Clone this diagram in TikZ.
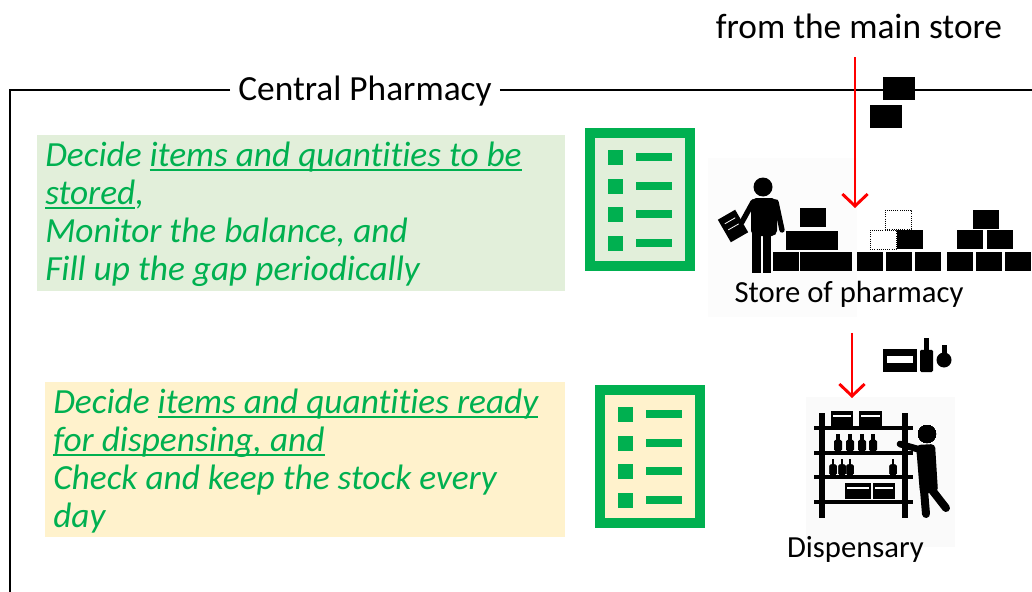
\documentclass[tikz,border=0pt]{standalone}
\usepackage{fontspec}
\setmainfont{Carlito}[Ligatures=NoCommon]
\usetikzlibrary{arrows.meta}
\definecolor{listgreen}{RGB}{0,176,80}
\definecolor{stockgreen}{RGB}{226,239,218}
\definecolor{dispyellow}{RGB}{255,242,204}
\definecolor{flowred}{RGB}{255,0,0}

% underline sitting just under the baseline
\newsavebox\keybox
\newcommand{\keyterm}[1]{\sbox\keybox{#1}\rlap{\rule[-3.6pt]{\wd\keybox}{1.2pt}}\usebox\keybox}

% checklist sheet: top-left x, top-left y, paper colour
\newcommand{\tasklist}[3]{%
  \fill[listgreen] (#1,#2) rectangle ++(110,143);
  \fill[#3] (#1+10,#2+10) rectangle ++(90,123);
  \foreach \r in {0,...,3} {
    \fill[listgreen] (#1+23,#2+22+28.5*\r) rectangle ++(15,15);
    \fill[listgreen] (#1+51,#2+25+28.5*\r) rectangle ++(36,8);
  }}

% bottle: centre x, bottom y, width, height
\newcommand{\vial}[4]{%
  \fill[rounded corners=1pt] (#1-#3/2,#2) rectangle (#1+#3/2,#2-0.65*#4);
  \fill (#1-#3/5,#2-0.6*#4) rectangle (#1+#3/5,#2-#4);}

\tikzset{
  frame/.style={draw=black, line width=1.5pt},
  duty/.style={anchor=base west, align=left, inner sep=0pt, text=listgreen, font=\fontsize{26.5}{28.5}\selectfont\itshape},
  heading/.style={anchor=base, font=\fontsize{26.5}{30}\selectfont},
  iconlabel/.style={anchor=base, font=\fontsize{23}{26}\selectfont},
  crate/.style={fill=black},
  gapcrate/.style={draw=black, densely dotted, line width=0.6pt, fill=white},
  flow/.style={flowred, line width=2.2pt, -{Straight Barb[length=9pt, width=19pt]}}
}

\begin{document}
\begin{tikzpicture}[x=0.75pt, y=-0.75pt]
    \useasboundingbox (0,0) rectangle (1032,592);

    % pharmacy frame
    \node[heading, inner xsep=6pt] (pharmacy) at (365,101) {Central Pharmacy};
    \coordinate (frameTL) at (10,90);
    \coordinate (frameBL) at (10,592);
    \coordinate (frameTR) at (1032,90);
    \draw[frame] (pharmacy.west |- frameTL) -- (frameTL) -- (frameBL);
    \draw[frame] (pharmacy.east |- frameTL) -- (frameTR);

    % tasks (node base = last line)
    \fill[stockgreen] (37,135) rectangle (565,291);
    \node[duty] (stockTask) at (45,280) {Decide \keyterm{items and quantities to be}\\\keyterm{stored},\\Monitor the balance, and\\Fill up the gap periodically};
    \fill[dispyellow] (45,382) rectangle (565,537);
    \node[duty] (dispTask) at (53,527) {Decide \keyterm{items and quantities ready}\\\keyterm{for dispensing, and}\\Check and keep the stock every\\day};

    \tasklist{585}{128}{stockgreen}
    \tasklist{595}{385}{dispyellow}

    % store of pharmacy
    \fill[black!1] (708,158) rectangle (857,317);
    \fill (763,187) circle (9.5);
    \fill[rounded corners=4pt] (751,198) rectangle (777,236);
    \fill (752,232) rectangle (761,273);
    \fill (763,232) rectangle (771,273);
    \draw[line width=4pt, line cap=round] (776,202) -- (782,230);
    \draw[line width=4pt, line cap=round] (753,202) -- (742,222);
    \fill[rotate around={30:(733,226)}] (723,213) rectangle (743,239);
    \draw[white, line width=0.6pt, rotate around={30:(733,226)}] (727,220) -- (739,220) (727,227) -- (739,227);
    \foreach \bx/\by in {773/252, 800/252, 826/252, 786/231, 812/231, 800/208,
                         857/252, 886/252, 915/252, 947/252, 976/252, 1005/252,
                         897/230, 957/230, 987/230, 973/210}
        \fill[crate] (\bx,\by) rectangle ++(25.5,19);
    \draw[gapcrate] (870,230) rectangle ++(26,19);
    \draw[gapcrate] (885,210) rectangle ++(26,19);
    \fill[crate] (883,77) rectangle ++(32,23);
    \fill[crate] (870,105) rectangle ++(32,23);
    \node[iconlabel] (storeLabel) at (849,302) {Store of pharmacy};

    % dispensary
    \fill[black!2] (806,397) rectangle (955,547);
    \fill (819,413) rectangle (825,518);
    \fill (902,413) rectangle (908,518);
    \foreach \sy in {428,453,477,502}
        \fill (814,\sy-2) rectangle (913,\sy+2);
    \foreach \bx/\by/\bw in {831/411/22, 859/411/23, 845/483/26, 873/483/22} {
        \fill (\bx,\by) rectangle ++(\bw,16);
        \draw[white, line width=1pt] (\bx+2,\by+5) -- ++(\bw-4,0);
    }
    \foreach \vx in {838,850,862,873} \vial{\vx}{451}{8}{17}
    \foreach \vx in {833,842,850,893} \vial{\vx}{475}{7}{16}
    \fill (927,434) circle (9);
    \fill[rounded corners=3pt] (916,445) -- (935,444) -- (938,492) -- (920,494) -- cycle;
    \draw[line width=5pt, line cap=round] (921,450) -- (900,444);
    \draw[line width=6pt, line cap=round] (924,490) -- (926,514);
    \draw[line width=6pt, line cap=round] (932,490) -- (946,508);
    \fill (883,349) rectangle (917,372);
    \fill[white] (887,356) rectangle (913,363);
    \vial{926.5}{372}{13}{34}
    \fill (944,360) circle (7.5);
    \fill (941.5,345) rectangle (946.5,356);
    \node[iconlabel] (dispLabel) at (855.5,557) {Dispensary};

    % supply flow
    \node[heading] (mainStore) at (859,39) {from the main store};
    \coordinate (storeIn) at (855,208);
    \coordinate (dispIn) at (852,398);
    \draw[flow, shorten <=10pt] (mainStore.south -| storeIn) -- (storeIn);
    \draw[flow, shorten <=16pt] (storeLabel.south -| dispIn) -- (dispIn);
\end{tikzpicture}
\end{document}
